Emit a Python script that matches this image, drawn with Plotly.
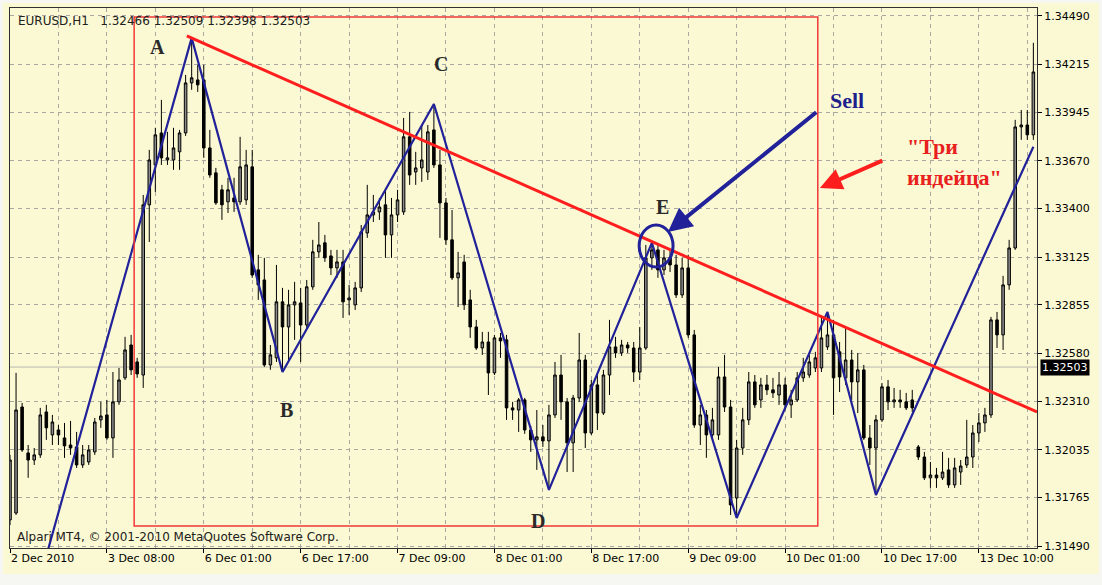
import plotly.graph_objects as go

# ---------------- data (EURUSD H1) ----------------
opens = [1.31638,1.31677,1.32277,1.32017,1.31977,1.32006,1.32249,1.32119,1.32147,1.32102,
         1.32062,1.32051,1.31949,1.31966,1.32023,1.32204,1.32232,1.32102,1.32306,1.32442,
         1.32628,1.32532,1.32458,1.33421,1.33647,1.33828,1.33675,1.33675,1.33721,1.33828,
         1.34111,1.34128,1.34128,1.33743,1.33602,1.33506,1.33438,1.33460,1.33438,1.33449,
         1.33636,1.33053,1.32996,1.32515,1.32555,1.32872,1.32730,1.32855,1.32866,1.32741,
         1.32957,1.33155,1.33206,1.33132,1.33064,1.33098,1.32883,1.32855,1.32951,1.33262,
         1.33364,1.33381,1.33421,1.33251,1.33364,1.33381,1.33806,1.33607,1.33630,1.33607,
         1.33845,1.33647,1.33432,1.33223,1.33008,1.33098,1.32883,1.32730,1.32611,1.32645,
         1.32470,1.32668,1.32657,1.32272,1.32260,1.32317,1.32147,1.32091,1.32108,1.32085,
         1.32232,1.32458,1.32306,1.32074,1.32328,1.32543,1.32130,1.32402,1.32243,1.32458,
         1.32617,1.32583,1.32628,1.32611,1.32475,1.32611,1.33121,1.33166,1.33053,1.33121,
         1.33081,1.32911,1.33064,1.32685,1.32175,1.32232,1.32119,1.32119,1.32447,1.32277,
         1.31762,1.32045,1.32204,1.32419,1.32317,1.32402,1.32374,1.32345,1.32402,1.32289,
         1.32317,1.32442,1.32458,1.32498,1.32498,1.32617,1.32685,1.32589,1.32442,1.32543,
         1.32419,1.32487,1.32102,1.32045,1.32204,1.32391,1.32306,1.32317,1.32306,1.32317,
         1.32051,1.31994,1.31876,1.31892,1.31876,1.31921,1.31836,1.31909,1.31949,1.31994,
         1.32130,1.32187,1.32232,1.32770,1.32685,1.32968,1.33177,1.33862,1.33873,1.33817]
highs = [1.32006,1.32470,1.32300,1.32062,1.32045,1.32272,1.32289,1.32232,1.32175,1.32187,
         1.32198,1.32136,1.32062,1.32062,1.32215,1.32306,1.32317,1.32475,1.32498,1.32674,
         1.32685,1.32555,1.33477,1.33732,1.33857,1.34015,1.33834,1.33857,1.33845,1.34156,
         1.34366,1.34213,1.34213,1.33845,1.33630,1.33534,1.33574,1.33574,1.33806,1.33732,
         1.33732,1.33138,1.33121,1.32628,1.33081,1.32951,1.32940,1.32985,1.32951,1.32996,
         1.33223,1.33324,1.33251,1.33166,1.33166,1.33166,1.32968,1.32985,1.33307,1.33534,
         1.33477,1.33460,1.33506,1.33460,1.33506,1.33913,1.33947,1.33721,1.33873,1.33873,
         1.33992,1.33732,1.33460,1.33392,1.33155,1.33138,1.32940,1.32770,1.32702,1.32702,
         1.32685,1.32696,1.32685,1.32306,1.32328,1.32328,1.32170,1.32260,1.32175,1.32289,
         1.32532,1.32572,1.32328,1.32345,1.32696,1.32572,1.32430,1.32470,1.32487,1.32770,
         1.32674,1.32657,1.32645,1.32645,1.32730,1.33194,1.33206,1.33194,1.33166,1.33166,
         1.33138,1.33121,1.33138,1.32713,1.32289,1.32260,1.32272,1.32504,1.32572,1.32317,
         1.32091,1.32272,1.32475,1.32458,1.32442,1.32458,1.32442,1.32475,1.32442,1.32374,
         1.32475,1.32555,1.32572,1.32589,1.32781,1.32815,1.32770,1.32645,1.32725,1.32600,
         1.32583,1.32515,1.32175,1.32232,1.32413,1.32430,1.32385,1.32374,1.32357,1.32374,
         1.32062,1.32023,1.31966,1.31932,1.32023,1.31989,1.31989,1.31977,1.32204,1.32175,
         1.32243,1.32272,1.32787,1.32815,1.33019,1.33223,1.33902,1.33958,1.33958,1.34338]
lows = [1.31609,1.31666,1.32023,1.31876,1.31949,1.31989,1.32091,1.32062,1.32062,1.31989,
        1.32006,1.31932,1.31932,1.31949,1.32006,1.32159,1.32091,1.31989,1.32289,1.32430,
        1.32458,1.32442,1.32385,1.33211,1.33494,1.33647,1.33647,1.33619,1.33619,1.33811,
        1.34072,1.34060,1.33687,1.33574,1.33421,1.33336,1.33375,1.33381,1.33421,1.33421,
        1.33008,1.32883,1.32504,1.32487,1.32532,1.32475,1.32543,1.32657,1.32532,1.32725,
        1.32940,1.33121,1.33098,1.33024,1.33008,1.32781,1.32798,1.32826,1.32928,1.33234,
        1.33324,1.33336,1.33121,1.33121,1.33324,1.33364,1.33534,1.33534,1.33551,1.33562,
        1.33630,1.33234,1.33194,1.32996,1.32843,1.32826,1.32668,1.32600,1.32572,1.32345,
        1.32458,1.32555,1.32204,1.32204,1.32136,1.32125,1.32023,1.31921,1.32051,1.31808,
        1.32215,1.32204,1.31909,1.31909,1.32306,1.32045,1.32119,1.32147,1.32232,1.32345,
        1.32555,1.32566,1.32583,1.32419,1.32430,1.32600,1.33053,1.33008,1.33024,1.33041,
        1.32894,1.32894,1.32668,1.32159,1.32062,1.31989,1.32102,1.32091,1.32249,1.31666,
        1.31649,1.32006,1.32175,1.32272,1.32272,1.32345,1.32328,1.32289,1.32260,1.32215,
        1.32306,1.32419,1.32442,1.32475,1.32475,1.32600,1.32232,1.32362,1.32402,1.32317,
        1.32243,1.32091,1.31949,1.31779,1.32192,1.32260,1.32272,1.32272,1.32260,1.32249,
        1.31977,1.31864,1.31819,1.31819,1.31864,1.31819,1.31819,1.31836,1.31932,1.31932,
        1.32079,1.32136,1.32215,1.32611,1.32600,1.32940,1.33166,1.33789,1.33789,1.33789]
closes = [1.31977,1.32260,1.32034,1.31977,1.32006,1.32232,1.32159,1.32192,1.32119,1.32057,
          1.32045,1.31949,1.32006,1.32034,1.32192,1.32226,1.32102,1.32306,1.32430,1.32600,
          1.32487,1.32464,1.33421,1.33675,1.33817,1.33687,1.33687,1.33743,1.33828,1.34111,
          1.34140,1.34100,1.33743,1.33590,1.33432,1.33421,1.33506,1.33438,1.33636,1.33647,
          1.33024,1.32968,1.32515,1.32572,1.32872,1.32730,1.32855,1.32872,1.32741,1.32957,
          1.33155,1.33194,1.33121,1.33064,1.33098,1.32872,1.32894,1.32951,1.33268,1.33364,
          1.33381,1.33409,1.33251,1.33364,1.33449,1.33806,1.33590,1.33630,1.33675,1.33834,
          1.33647,1.33432,1.33223,1.33008,1.33036,1.32855,1.32730,1.32611,1.32645,1.32470,
          1.32668,1.32651,1.32272,1.32260,1.32317,1.32147,1.32091,1.32108,1.32085,1.32232,
          1.32458,1.32306,1.32074,1.32328,1.32543,1.32130,1.32402,1.32243,1.32458,1.32617,
          1.32583,1.32628,1.32611,1.32475,1.32611,1.33121,1.33166,1.33053,1.33121,1.33081,
          1.32911,1.33064,1.32685,1.32175,1.32232,1.32119,1.32204,1.32447,1.32277,1.31723,
          1.32045,1.32204,1.32419,1.32289,1.32402,1.32374,1.32357,1.32402,1.32289,1.32317,
          1.32442,1.32475,1.32532,1.32555,1.32668,1.32685,1.32442,1.32447,1.32543,1.32419,
          1.32487,1.32102,1.32045,1.32204,1.32391,1.32306,1.32317,1.32306,1.32272,1.32272,
          1.31994,1.31876,1.31892,1.31876,1.31909,1.31836,1.31932,1.31943,1.31994,1.32130,
          1.32187,1.32232,1.32770,1.32685,1.32968,1.33177,1.33862,1.33873,1.33817,1.34173]
bars = list(range(len(closes)))

# ZigZag vertices (bar index, price)
zz_bar = [4, 30, 45, 70, 89, 106, 120, 135, 143, 169]
zz_price = [1.31191, 1.34366, 1.32475, 1.33992, 1.31808, 1.33206, 1.31649, 1.32815, 1.31779, 1.33750]

# trend line
trend_bar = [29.2, 169.6]
trend_price = [1.34377, 1.32249]

# "Three Indians" box
box_bar = [20.5, 133.4]
box_price = [1.31603, 1.34484]

# time axis labels (every 16 bars)
time_labels = ["2 Dec 2010", "3 Dec 08:00", "6 Dec 01:00", "6 Dec 17:00", "7 Dec 09:00",
               "8 Dec 01:00", "8 Dec 17:00", "9 Dec 09:00", "10 Dec 01:00", "10 Dec 17:00",
               "13 Dec 10:00"]
time_bars = [16 * k for k in range(len(time_labels))]
grid_bars = [8 + 16 * k for k in range(len(time_labels))]

price_labels = ["1.31490", "1.31765", "1.32035", "1.32310", "1.32580", "1.32855",
                "1.33125", "1.33400", "1.33670", "1.33945", "1.34215", "1.34490"]
price_vals = [float(p) for p in price_labels]

bid = 1.32503
header = "EURUSD,H1\u00a0\u00a0 1.32466 1.32509 1.32398 1.32503"
footer = "Alpari MT4, \u00a9 2001-2010 MetaQuotes Software Corp."

# label positions for letters (bar, price)
letter_pos = {"A": (24.3, 1.34315), "B": (45.7, 1.32260), "C": (71.2, 1.34218),
              "D": (87.2, 1.31632), "E": (107.8, 1.33409)}

# ---------------- figure ----------------
BG = "#FBF9D3"
NAVY = "#21219A"
RED = "#FF1E1E"
GRID = "#A8A8A0"

W, H = 1102, 585
L, R, T, B = 10, 65, 8, 37
pw, ph = W - L - R, H - T - B

def px(xp):
    return (xp - L) / pw

def py(yp):
    return (H - B - yp) / ph

fig = go.Figure()

fig.add_trace(go.Candlestick(
    x=bars, open=opens, high=highs, low=lows, close=closes,
    increasing=dict(fillcolor="#8A8A8A", line=dict(color="#000000", width=1)),
    decreasing=dict(fillcolor="#000000", line=dict(color="#000000", width=1)),
    whiskerwidth=0, showlegend=False, hoverinfo="skip"))

fig.add_trace(go.Scatter(x=zz_bar, y=zz_price, mode="lines",
                         line=dict(color=NAVY, width=2.2), showlegend=False, hoverinfo="skip"))

fig.add_trace(go.Scatter(x=trend_bar, y=trend_price, mode="lines",
                         line=dict(color=RED, width=3), showlegend=False, hoverinfo="skip"))

shapes = []
shapes.append(dict(type="rect", xref="paper", yref="paper", layer="below",
                   x0=px(3), x1=px(1099), y0=py(574), y1=py(3),
                   fillcolor=BG, line=dict(width=0)))
shapes.append(dict(type="rect", xref="x", yref="y", x0=box_bar[0], x1=box_bar[1],
                   y0=box_price[0], y1=box_price[1], line=dict(color="#F03838", width=1.5)))
shapes.append(dict(type="line", xref="paper", yref="y", x0=0, x1=1, y0=bid, y1=bid,
                   line=dict(color="#B8B8B0", width=1), layer="below"))
shapes.append(dict(type="circle", xref="x", yref="y", x0=103.9, x1=109.5,
                   y0=1.33069, y1=1.33307, line=dict(color=NAVY, width=3)))

ann = []
for k, (bx, pr) in letter_pos.items():
    ann.append(dict(x=bx, y=pr, xref="x", yref="y", text="<b>" + k + "</b>", showarrow=False,
                    font=dict(family="Liberation Serif", size=20, color="#2A2A2A")))

ann.append(dict(x=108.65, y=1.33267, ax=133.4, ay=1.33952, xref="x", yref="y",
                axref="x", ayref="y", text="", showarrow=True, arrowhead=2,
                arrowsize=1.2, arrowwidth=4, arrowcolor=NAVY, standoff=0))
ann.append(dict(x=135.1, y=1.34009, xref="x", yref="y", text="<b>Sell</b>", showarrow=False,
                xanchor="left", font=dict(family="Liberation Serif", size=22, color="#1E1E8C")))
ann.append(dict(x=133.75, y=1.33516, ax=144.3, ay=1.33675, xref="x", yref="y",
                axref="x", ayref="y", text="", showarrow=True, arrowhead=2,
                arrowsize=1.1, arrowwidth=4, arrowcolor=RED, standoff=0))
ann.append(dict(x=147.8, y=1.33749, xref="x", yref="y", text="<b>\"Три</b>", showarrow=False,
                xanchor="left", font=dict(family="Liberation Serif", size=22, color="#E8201E")))
ann.append(dict(x=147.8, y=1.33573, xref="x", yref="y", text="<b>индейца\"</b>", showarrow=False,
                xanchor="left", font=dict(family="Liberation Serif", size=22, color="#E8201E")))

ann.append(dict(x=px(16), y=py(21), xref="paper", yref="paper", text=header, showarrow=False,
                xanchor="left", yanchor="middle",
                font=dict(family="DejaVu Sans", size=12, color="#202020")))
ann.append(dict(x=px(15), y=py(537), xref="paper", yref="paper", text=footer, showarrow=False,
                xanchor="left", yanchor="middle",
                font=dict(family="DejaVu Sans", size=12, color="#202020")))
ann.append(dict(x=px(1040), y=bid, xref="paper", yref="y", text="1.32503", showarrow=False,
                xanchor="left", yanchor="middle", bgcolor="#000000", borderpad=1,
                font=dict(family="DejaVu Sans", size=11, color="#FFFFFF")))

fig.update_layout(
    width=W, height=H, margin=dict(l=L, r=R, t=T, b=B),
    paper_bgcolor="#F6F6F2", plot_bgcolor=BG,
    shapes=shapes, annotations=ann, showlegend=False, boxgap=0.4,
    xaxis=dict(range=[0, 169.6], rangeslider=dict(visible=False),
               tickvals=time_bars, ticktext=time_labels, ticks="outside", ticklen=4,
               tickcolor="#000000", ticklabelposition="outside right",
               tickfont=dict(family="DejaVu Sans", size=11, color="#000000"),
               showgrid=True, gridcolor=GRID, griddash="4px,4px", gridwidth=1,
               minor=dict(tickvals=grid_bars, showgrid=True, gridcolor=GRID,
                          griddash="4px,4px", gridwidth=1, ticks=""),
               showline=True, linecolor="#303030", linewidth=1, mirror=True,
               zeroline=False, fixedrange=True),
    yaxis=dict(range=[1.31479, 1.34535], side="right",
               tickvals=price_vals, ticktext=price_labels, ticks="outside", ticklen=4,
               tickcolor="#000000",
               tickfont=dict(family="DejaVu Sans", size=11, color="#000000"),
               showgrid=True, gridcolor=GRID, griddash="4px,4px", gridwidth=1,
               showline=True, linecolor="#303030", linewidth=1, mirror=True,
               zeroline=False, fixedrange=True),
)

fig.write_html("out.html", config={"displayModeBar": False},
               post_script="document.body.style.margin='0';document.body.style.overflow='hidden';")
